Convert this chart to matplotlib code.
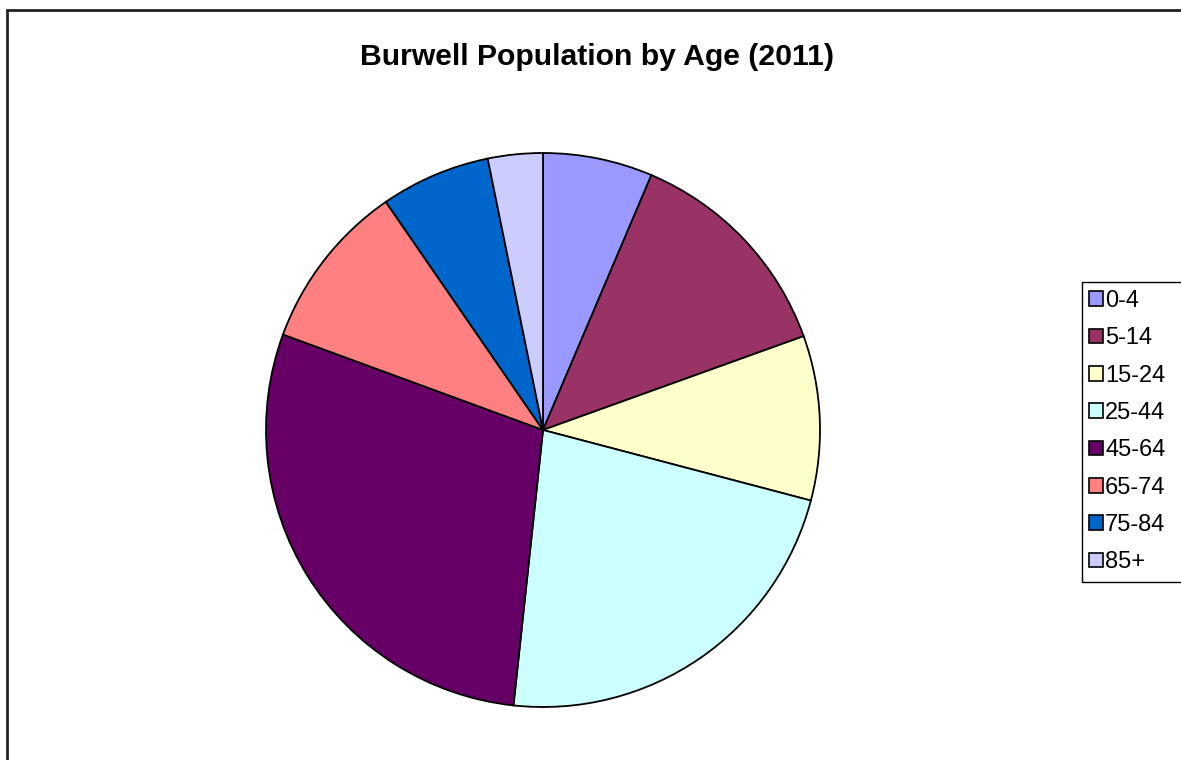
import matplotlib
matplotlib.use('Agg')
import matplotlib.pyplot as plt
from matplotlib.patches import Patch, Rectangle

plt.rcParams['font.family'] = ['Liberation Sans', 'DejaVu Sans']

# age bands and share of population (%)
ages = ['0-4', '5-14', '15-24', '25-44', '45-64', '65-74', '75-84', '85+']
share = [6.4, 13.1, 9.6, 22.6, 28.9, 9.8, 6.4, 3.2]
colors = ['#9999FF', '#993366', '#FFFFCC', '#CCFFFF',
          '#660066', '#FF8080', '#0066CC', '#CCCCFF']

W, H = 1181, 760
fig = plt.figure(figsize=(W / 100, H / 100), dpi=100)
ax = fig.add_axes([0, 0, 1, 1])
ax.set_xlim(0, W)
ax.set_ylim(0, H)
ax.set_aspect('equal')
ax.axis('off')

# outer chart border (runs off the right/bottom edge)
ax.add_patch(Rectangle((7, -20), W + 40, H - 10 + 20, fill=False,
                       edgecolor='#222222', linewidth=2))

ax.pie(share, colors=colors, startangle=90, counterclock=False,
       center=(543, H - 430), radius=277,
       wedgeprops=dict(edgecolor='black', linewidth=1.3))
ax.set_xlim(0, W)
ax.set_ylim(0, H)

ax.text(597, H - 57, 'Burwell Population by Age (2011)', ha='center',
        va='center', fontsize=21.7, fontweight='bold')

# legend
ax.add_patch(Rectangle((1082, H - 582), 150, 300, fill=False,
                       edgecolor='black', linewidth=1))
handles = [Patch(facecolor=c, edgecolor='black', linewidth=1.2) for c in colors]
leg = ax.legend(handles, ages, loc='upper left',
                bbox_to_anchor=(1089 / W, 1 - 290 / H), frameon=False,
                fontsize=17, handlelength=0.58, handleheight=0.58,
                handletextpad=0.1, labelspacing=0.65, borderaxespad=0,
                borderpad=0)

fig.savefig('out.png', dpi=100)
